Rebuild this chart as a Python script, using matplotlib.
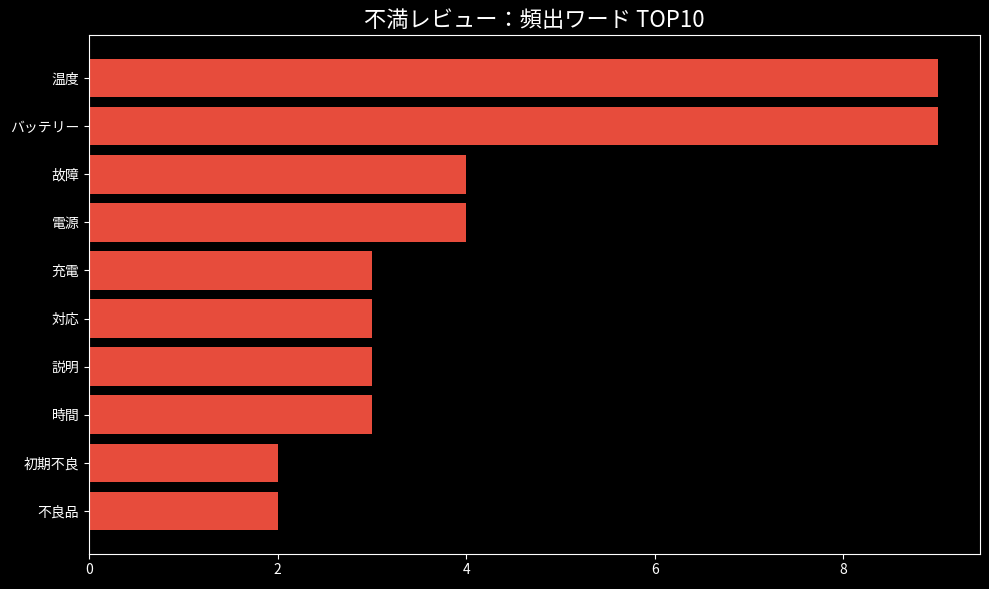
import matplotlib
matplotlib.use("Agg")
import matplotlib.pyplot as plt

# 頻出ワード (上から順)
words = ["温度", "バッテリー", "故障", "電源", "充電", "対応", "説明", "時間", "初期不良", "不良品"]
counts = [9, 9, 4, 4, 3, 3, 3, 3, 2, 2]

plt.style.use("dark_background")
plt.rcParams['font.family'] = ['Noto Sans CJK JP', 'DejaVu Sans']

fig, ax = plt.subplots(figsize=(9.89, 5.89), dpi=100)
fig.subplots_adjust(left=0.09, right=0.991, top=0.94, bottom=0.060)

ax.barh(words[::-1], counts[::-1], color="#E74C3C", height=0.8)
ax.set_title("不満レビュー：頻出ワード TOP10", fontsize=16)
ax.tick_params(labelsize=10)

fig.savefig("out.png", dpi=100)
